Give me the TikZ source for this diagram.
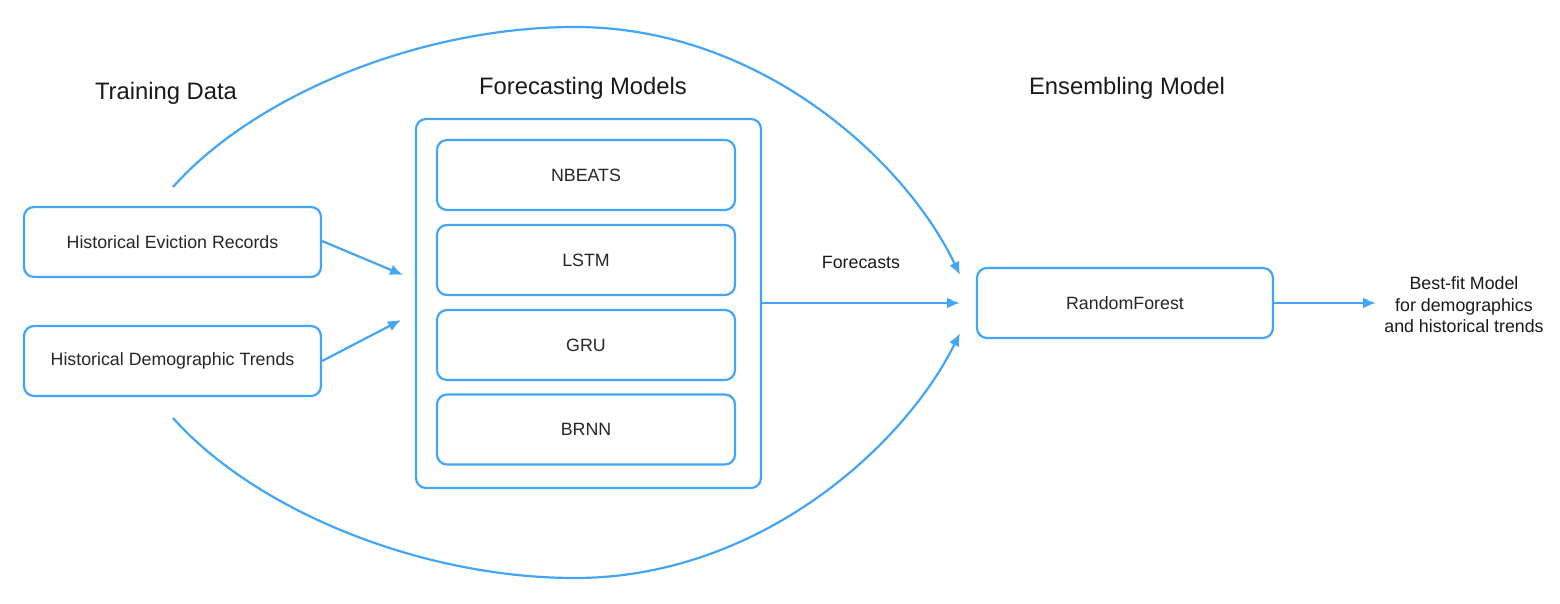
\documentclass[tikz,border=0pt]{standalone}
\usepackage{fontspec}
\setmainfont{Liberation Sans}
\usetikzlibrary{arrows.meta,calc}
\definecolor{lb}{HTML}{42A5F5}
\begin{document}
\begin{tikzpicture}[x=0.5pt,y=-0.5pt,
  box/.style={draw=lb,line width=1.1pt,rounded corners=5pt,inner sep=0pt,font=\fontsize{8.9}{10.8}\selectfont,text=black!85},
  title/.style={font=\fontsize{11.9}{14}\selectfont,text=black!90},
  lbl/.style={font=\fontsize{8.9}{10.8}\selectfont,text=black!90,align=center},
  arr/.style={draw=lb,line width=1.1pt,-{Latex[length=6.5pt,width=5.5pt]}}]
\useasboundingbox (0,0) rectangle (1560,604);
% titles
\node[title] (t1) at (166,93) {Training Data};
\node[title] (t2) at (583,88) {Forecasting Models};
\node[title] (t3) at (1127,88) {Ensembling Model};
% input boxes
\node[box,minimum width=148.5pt,minimum height=35pt] (ev) at (172.5,242) {Historical Eviction Records};
\node[box,minimum width=148.5pt,minimum height=35pt] (dm) at (172.5,361) {Historical Demographic Trends};
% container
\node[box,minimum width=172.5pt,minimum height=184.5pt] (fm) at (588.5,303.5) {};
\node[box,minimum width=149pt,minimum height=35pt] (nb) at (586,175) {NBEATS};
\node[box,minimum width=149pt,minimum height=35pt] (ls) at (586,260) {LSTM};
\node[box,minimum width=149pt,minimum height=35pt] (gr) at (586,345) {GRU};
\node[box,minimum width=149pt,minimum height=35pt] (br) at (586,429.5) {BRNN};
% ensemble
\node[box,minimum width=148pt,minimum height=35pt] (rf) at (1125,303) {RandomForest};
\node[lbl] (out) at (1464,305) {Best-fit Model\\for demographics\\and historical trends};
\node[lbl] (fc) at (861,262) {Forecasts};
% free-end coordinates
\coordinate (i1) at (403,275);
\coordinate (i2) at (401,320);
\coordinate (ts) at (173,187);
\coordinate (bs) at (173,418);
\coordinate (te) at (960,275);
\coordinate (be) at (960,333);
\coordinate (fe) at (960,303);
\coordinate (oe) at (1376,303);
% connectors
\draw[arr] (ev.east) ++(0,-1) -- (i1);
\draw[arr] (dm.east) -- (i2);
\draw[arr] (fm.east) ++(0,-0.5) -- (fe);
\draw[arr] (rf.east) -- (oe);
\draw[arr] (ts) .. controls (255,95) and (420,27) .. (575,27)
  .. controls (760,27) and (905,160) .. (te);
\draw[arr] (bs) .. controls (255,510) and (420,578) .. (575,578)
  .. controls (760,578) and (905,445) .. (be);
\end{tikzpicture}
\end{document}
